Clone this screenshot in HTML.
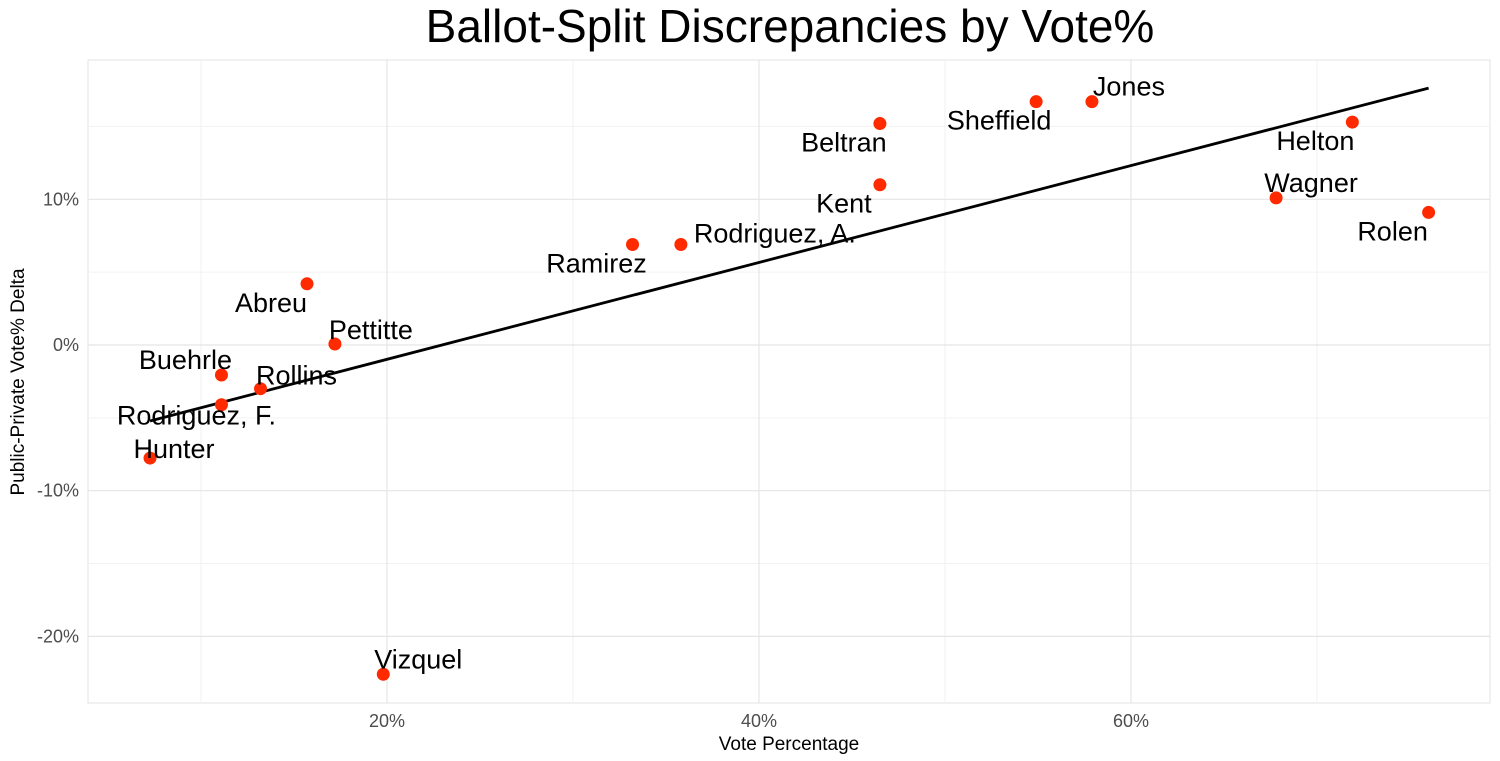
<!DOCTYPE html>
<html><head><meta charset="utf-8"><style>
html,body{margin:0;padding:0;background:#fff;}
svg{display:block;font-family:"Liberation Sans",Arial,sans-serif;}
</style></head><body>
<svg id="chart" width="1500" height="761"></svg>
<script>
const names=["Vizquel","Hunter","Rodriguez, F.","Buehrle","Rollins","Pettitte","Abreu","Ramirez","Rodriguez, A.","Kent","Beltran","Sheffield","Jones","Helton","Wagner","Rolen"];
const votePct=[19.8,7.26,11.1,11.1,13.2,17.2,15.7,33.2,35.8,46.5,46.5,54.9,57.9,71.9,67.8,76.0];
const deltaPct=[-22.6,-7.76,-4.1,-2.06,-3.0,0.07,4.2,6.9,6.9,11.0,15.2,16.7,16.7,15.3,10.1,9.1];
const xTicks=[20,40,60];
const yTicks=[-20,-10,0,10];
const xTickLabels=["20%","40%","60%"];
const yTickLabels=["-20%","-10%","0%","10%"];
const labelDx=[35,24,-25,-36,36,36,-36,-36,94,-36,-36,-37,37,-37,35,-36];
const labelDy=[-15,-9,11,-15,-13,-14,19,19,-11,19,19,19,-15,19,-15,19];

const svg=document.getElementById('chart');
const NS='http://www.w3.org/2000/svg';
const L=88,R=1490,T=60,B=703;
const xs=v=>15+v*18.6;
const ys=v=>345-v*14.57;
function mk(tag,attrs,parent){const e=document.createElementNS(NS,tag);for(const k in attrs)e.setAttribute(k,attrs[k]);(parent||svg).appendChild(e);return e;}

const panel=mk('rect',{x:L,y:T,width:R-L,height:B-T,fill:'#fff',stroke:'#e3e3e3','stroke-width':1});


// minor grid
[10,30,50,70].forEach(v=>{const g=mk('line',{x1:xs(v),x2:xs(v),y1:T,y2:B,stroke:'#f2f2f2','stroke-width':1});

});
[-15,-5,5,15].forEach(v=>{const g=mk('line',{x1:L,x2:R,y1:ys(v),y2:ys(v),stroke:'#f2f2f2','stroke-width':1});

});
xTicks.forEach((v,i)=>{const g=mk('line',{x1:xs(v),x2:xs(v),y1:T,y2:B,stroke:'#e5e5e5','stroke-width':1.2});


const t=mk('text',{x:xs(v),y:727,'text-anchor':'middle','font-size':18,fill:'#4d4d4d'});t.textContent=xTickLabels[i];

});
yTicks.forEach((v,i)=>{const g=mk('line',{x1:L,x2:R,y1:ys(v),y2:ys(v),stroke:'#e5e5e5','stroke-width':1.2});


const t=mk('text',{x:79,y:ys(v)+6,'text-anchor':'end','font-size':18,fill:'#4d4d4d'});t.textContent=yTickLabels[i];

});

// regression line
const n=votePct.length;let mx=0,my=0;for(let i=0;i<n;i++){mx+=votePct[i];my+=deltaPct[i];}mx/=n;my/=n;
let sxy=0,sxx=0;for(let i=0;i<n;i++){sxy+=(votePct[i]-mx)*(deltaPct[i]-my);sxx+=(votePct[i]-mx)**2;}
const slope=sxy/sxx,icpt=my-slope*mx;
const x0=Math.min(...votePct),x1=Math.max(...votePct);
const ln=mk('line',{x1:xs(x0),y1:ys(icpt+slope*x0),x2:xs(x1),y2:ys(icpt+slope*x1),stroke:'#000','stroke-width':2.8});



for(let i=0;i<n;i++){
const c=mk('circle',{cx:xs(votePct[i]),cy:ys(deltaPct[i]),r:6.5,fill:'#ff2a00'});


}
for(let i=0;i<n;i++){
const t=mk('text',{x:xs(votePct[i])+labelDx[i],y:ys(deltaPct[i])+labelDy[i]+9,'text-anchor':'middle','font-size':27,fill:'#000'});
t.textContent=names[i];


}
const title=mk('text',{x:790,y:42,'text-anchor':'middle','font-size':46,fill:'#000'});title.textContent='Ballot-Split Discrepancies by Vote%';


const xt=mk('text',{x:789,y:750,'text-anchor':'middle','font-size':19,fill:'#000'});xt.textContent='Vote Percentage';


const yt=mk('text',{x:24,y:382,'text-anchor':'middle','font-size':19,fill:'#000',transform:'rotate(-90 24 382)'});yt.textContent='Public-Private Vote% Delta';


</script>
</body></html>
